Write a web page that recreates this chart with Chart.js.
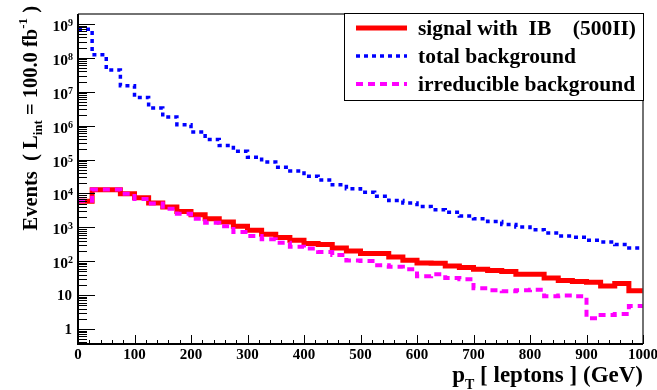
<!DOCTYPE html>
<html>
<head>
<meta charset="utf-8">
<script src="https://cdn.jsdelivr.net/npm/chart.js@4.4.0/dist/chart.umd.min.js"></script>
<style>
  body { margin: 0; background: #fff; }
  canvas { display: block; }
</style>
</head>
<body>
<canvas id="myChart" width="657" height="390"></canvas>
<script>
// pT of the leptons, 40 bins of 25 GeV between 0 and 1000 GeV
const binWidth = 25;

// signal with IB (500II)
const signalIB = [5900, 12900, 12900, 9800, 7500, 5200, 3950, 2950, 2350, 1800,
  1440, 1070, 815, 620, 500, 415, 330, 310, 245, 200,
  168, 168, 134, 107, 89, 87, 72, 65, 58, 53,
  50, 41, 41, 32, 27, 25, 24, 18.5, 22, 13.5];

// total background
const totalBkg = [7.0e8, 1.23e8, 4.4e7, 1.5e7, 6.8e6, 3.3e6, 1.8e6, 1.07e6, 6.5e5, 3.9e5,
  2.6e5, 1.75e5, 1.17e5, 8.5e4, 5.9e4, 4.6e4, 3.2e4, 2.5e4, 1.8e4, 1.37e4,
  1.09e4, 8200, 6200, 5200, 4100, 3300, 2800, 2150, 1800, 1480,
  1200, 1020, 850, 680, 550, 510, 415, 370, 310, 245];

// irreducible background
const irredBkg = [6100, 13000, 13000, 9800, 6900, 5000, 3500, 2500, 1800, 1370,
  1070, 730, 550, 445, 350, 265, 235, 187, 152, 105,
  102, 76, 68, 58, 36, 41, 32, 29.5, 15.8, 14,
  12.9, 14, 14.3, 9.3, 9.7, 9.3, 2.06, 2.6, 2.76, 4.75];

const seriesNames = ["signal with  IB    (500II)", "total background", "irreducible background"];

const xTickLabels = ["0", "100", "200", "300", "400", "500", "600", "700", "800", "900", "1000"];
const yTickExps = [0, 1, 2, 3, 4, 5, 6, 7, 8, 9];

// histogram -> punkter på lav-kant + en siste på høy-kant
function steps(vals) {
  let pts = vals.map((v, i) => ({ x: i * binWidth, y: v }));
  pts.push({ x: vals.length * binWidth, y: vals[vals.length - 1] });
  return pts;
}

const serif = '"Liberation Serif", "Times New Roman", serif';

const styles = [
  { color: "#ff0000", width: 5, dash: [] },
  { color: "#0000ff", width: 3.5, dash: [4, 4] },
  { color: "#ff00ff", width: 4, dash: [7, 5] }
];

// akser, tekst og legend tegnes i ROOT-stil
const rootStyle = {
  id: "rootStyle",
  afterDraw(chart) {
    const ctx = chart.ctx;
    const { left, right, top, bottom } = chart.chartArea;
    const xs = chart.scales.x;
    const ys = chart.scales.y;
    ctx.save();

    // ramme
    ctx.strokeStyle = "#444";
    ctx.lineWidth = 1.5;
    ctx.beginPath();
    ctx.moveTo(left, top); ctx.lineTo(right, top); ctx.lineTo(right, bottom);
    ctx.stroke();
    ctx.strokeStyle = "#000";
    ctx.lineWidth = 2;
    ctx.beginPath();
    ctx.moveTo(left, top); ctx.lineTo(left, bottom); ctx.lineTo(right, bottom);
    ctx.stroke();

    // y ticks
    ctx.lineWidth = 1;
    ctx.beginPath();
    for (let e = -1; e <= 9; e++) {
      for (let k = 1; k <= 9; k++) {
        const v = k * Math.pow(10, e);
        if (v < ys.min || v > ys.max) continue;
        const py = Math.round(ys.getPixelForValue(v)) + 0.5;
        const len = k === 1 ? 17 : 9;
        ctx.moveTo(left, py); ctx.lineTo(left + len, py);
      }
    }
    // x ticks
    for (let v = 0; v <= 1000; v += 20) {
      const px = Math.round(xs.getPixelForValue(v)) + 0.5;
      const len = v % 100 === 0 ? 9 : 4;
      ctx.moveTo(px, bottom); ctx.lineTo(px, bottom - len);
    }
    ctx.stroke();

    // y labels
    ctx.fillStyle = "#000";
    ctx.textBaseline = "alphabetic";
    yTickExps.forEach(e => {
      const py = ys.getPixelForValue(Math.pow(10, e));
      if (e <= 1) {
        ctx.font = "bold 15px " + serif;
        ctx.textAlign = "right";
        ctx.fillText(e === 0 ? "1" : "10", 72, py + 5);
      } else {
        ctx.font = "bold 10px " + serif;
        ctx.textAlign = "right";
        const sw = ctx.measureText(String(e)).width;
        ctx.fillText(String(e), 73, py + 2);
        ctx.font = "bold 15.5px " + serif;
        ctx.fillText("10", 73 - sw, py + 7);
      }
    });

    // x labels
    ctx.font = "bold 15px " + serif;
    ctx.textAlign = "center";
    xTickLabels.forEach(t => {
      const px = xs.getPixelForValue(Number(t));
      ctx.fillText(t, px, 359);
    });

    // x tittel: p_T [ leptons ] (GeV)
    ctx.textAlign = "left";
    const bigX = "bold 23px " + serif;
    const smallX = "bold 14px " + serif;
    ctx.font = bigX;
    const wP = ctx.measureText("p").width;
    const rest = " [ leptons ] (GeV)";
    const wRest = ctx.measureText(rest).width;
    ctx.font = smallX;
    const wT = ctx.measureText("T").width;
    let x0 = right - (wP + wT + wRest);
    ctx.font = bigX;
    ctx.fillText("p", x0, 382);
    ctx.font = smallX;
    ctx.fillText("T", x0 + wP, 389);
    ctx.font = bigX;
    ctx.fillText(rest, x0 + wP + wT, 382);

    // y tittel: Events ( L_int = 100.0 fb^-1 )
    const big = "bold 20.5px " + serif;
    const small = "bold 13px " + serif;
    const parts = [
      { t: "Events  ( L", f: big, dy: 0 },
      { t: "int", f: small, dy: 5 },
      { t: " = 100.0 fb", f: big, dy: 0 },
      { t: "-1", f: small, dy: -10 },
      { t: " )", f: big, dy: 0 }
    ];
    let tot = 0;
    parts.forEach(p => { ctx.font = p.f; p.w = ctx.measureText(p.t).width; tot += p.w; });
    ctx.save();
    ctx.translate(37, 6);
    ctx.rotate(-Math.PI / 2);
    let cx = -tot;
    parts.forEach(p => {
      ctx.font = p.f;
      ctx.fillText(p.t, cx, p.dy);
      cx += p.w;
    });
    ctx.restore();

    // legend
    const bx = 344, by = 13, bw = right - 344, bh = 87;
    ctx.fillStyle = "#fff";
    ctx.fillRect(bx, by, bw, bh);
    ctx.strokeStyle = "#000";
    ctx.lineWidth = 1;
    ctx.strokeRect(bx + 0.5, by + 0.5, bw, bh);
    const rows = [28, 56, 84];
    seriesNames.forEach((name, i) => {
      const s = styles[i];
      ctx.strokeStyle = s.color;
      ctx.lineWidth = s.width;
      ctx.setLineDash(s.dash);
      ctx.beginPath();
      ctx.moveTo(356, rows[i]); ctx.lineTo(407, rows[i]);
      ctx.stroke();
      ctx.setLineDash([]);
      ctx.fillStyle = "#000";
      ctx.font = "bold 21.5px " + serif;
      ctx.textAlign = "left";
      ctx.textBaseline = "middle";
      ctx.fillText(name, 418, rows[i] + 1);
    });
    ctx.restore();
  }
};

const series = [signalIB, totalBkg, irredBkg];
const drawOrder = [2, 1, 0];

new Chart(document.getElementById("myChart"), {
  type: "line",
  data: {
    datasets: series.map((vals, i) => ({
      label: seriesNames[i],
      data: steps(vals),
      stepped: "before",
      borderColor: styles[i].color,
      borderWidth: styles[i].width,
      borderDash: styles[i].dash,
      borderCapStyle: "butt",
      borderJoinStyle: "miter",
      pointRadius: 0,
      fill: false,
      order: drawOrder[i]
    }))
  },
  options: {
    responsive: false,
    animation: false,
    devicePixelRatio: 1,
    layout: { padding: { left: 78, top: 14, right: 14, bottom: 46 } },
    scales: {
      x: { type: "linear", min: 0, max: 1000, display: false },
      y: { type: "logarithmic", min: 0.36, max: 1.97e9, display: false }
    },
    plugins: {
      legend: { display: false },
      tooltip: { enabled: false }
    }
  },
  plugins: [rootStyle]
});
</script>
</body>
</html>
